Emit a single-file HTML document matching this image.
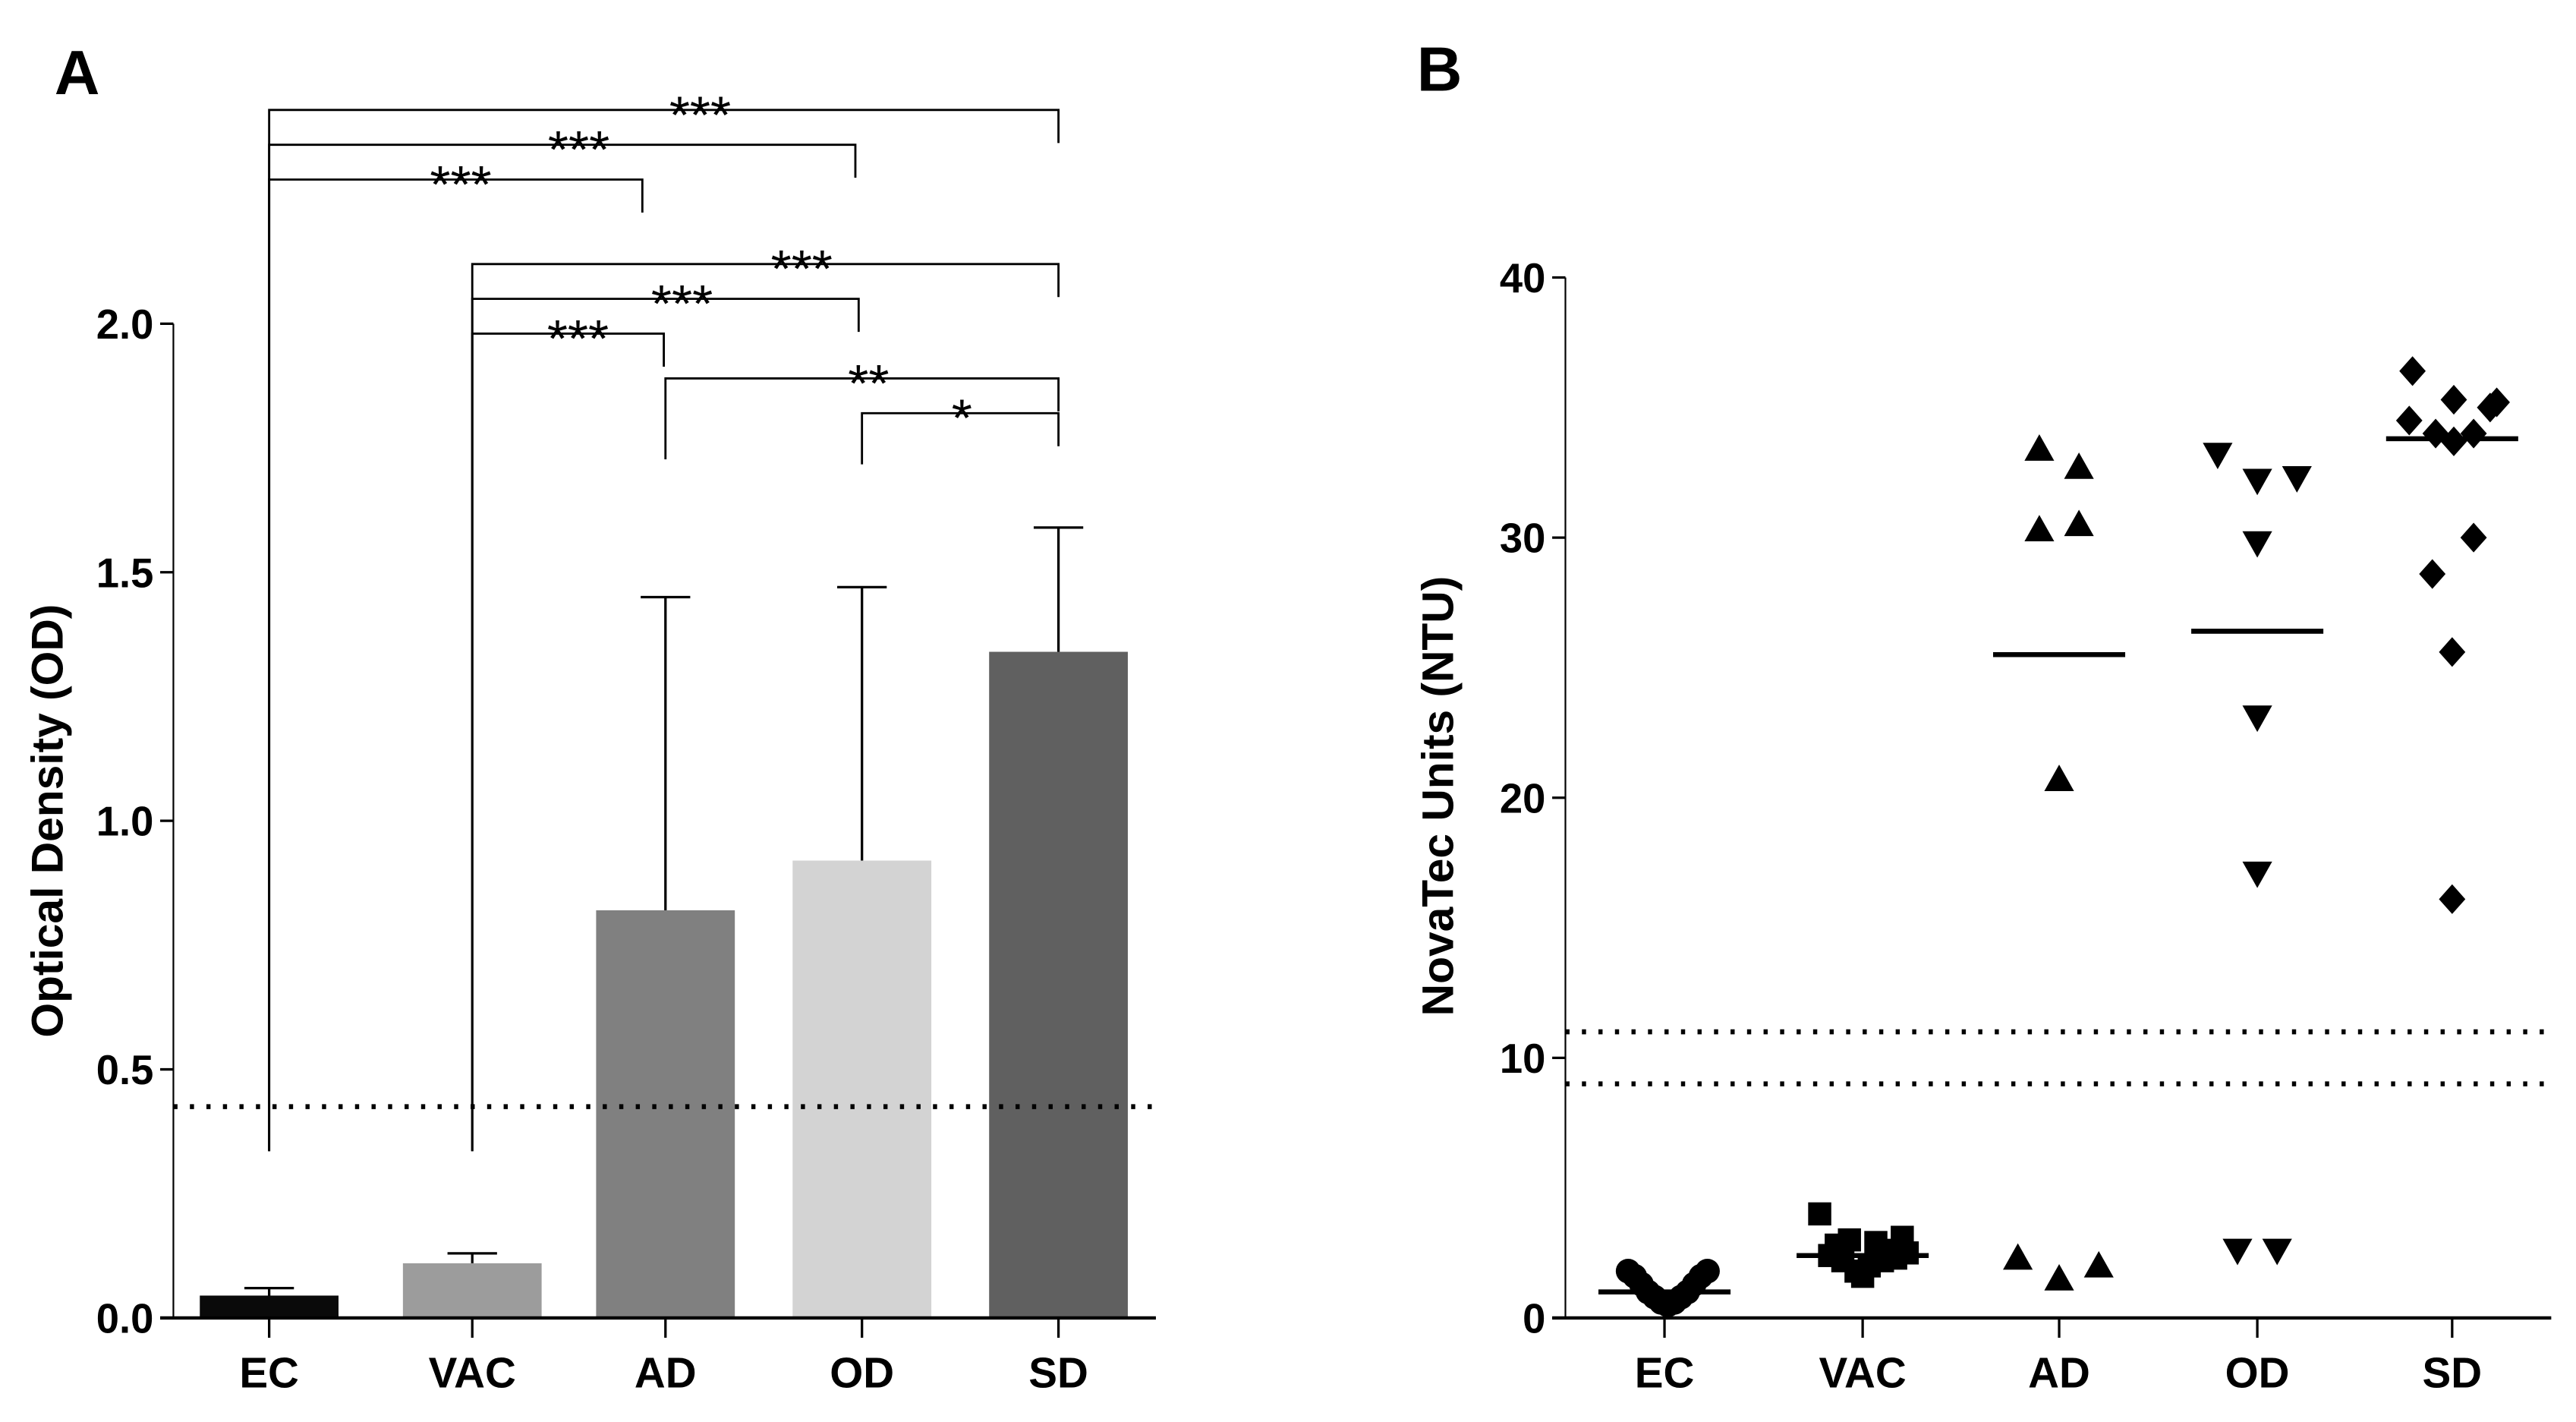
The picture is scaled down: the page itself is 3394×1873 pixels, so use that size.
<!DOCTYPE html>
<html><head><meta charset="utf-8"><style>
html,body{margin:0;padding:0;background:#fff;}
svg{display:block;font-family:"Liberation Sans",Arial,sans-serif;}
</style></head><body>
<svg id="fig" width="3394" height="1873" viewBox="0 0 1560 861" preserveAspectRatio="none" xmlns="http://www.w3.org/2000/svg">
<rect width="1560" height="861" fill="#fff"/>
<g id="pa"></g>
<g id="pb"></g>
</svg>
<script>
// Panel A data
const catsA = ["EC","VAC","AD","OD","SD"];
const meansA = [0.045, 0.11, 0.82, 0.92, 1.34];
const errTopA = [0.06, 0.13, 1.45, 1.47, 1.59];
const colorsA = ["#0a0a0a","#9c9c9c","#808080","#d3d3d3","#606060"];
const ticksA = [0, 0.5, 1.0, 1.5, 2.0];
const cutoffA = 0.425;
// significance: [fromIdx, toIdx, label]
const sigPairs = [[0,4,"***"],[0,3,"***"],[0,2,"***"],[1,4,"***"],[1,3,"***"],[1,2,"***"],[2,4,"**"],[3,4,"*"]];
const sigLevels = [2.43, 2.36, 2.29, 2.12, 2.05, 1.98, 1.89, 1.82];

// Panel B data
const catsB = ["EC","VAC","AD","OD","SD"];
const ticksB = [0,10,20,30,40];
const cutoffsB = [11, 9];
const meanB = [1.0, 2.4, 25.5, 26.4, 33.8];
const ecVals = [1.8,1.6,1.3,1.0,0.8,0.6,0.5,0.6,0.8,1.0,1.3,1.6,1.8];
const vacVals = [4.0,2.4,2.8,2.2,3.0,1.8,1.6,2.0,2.9,2.2,2.6,2.3,3.1,2.5];
const adVals = [33.4,32.7,30.3,30.5,20.7,2.3,1.5,2.0];
const odVals = [33.2,32.2,32.3,29.8,23.1,17.1,2.6,2.6];
const sdVals = [36.4,35.3,35.0,34.5,34.0,33.7,34.0,35.2,30.0,28.6,25.6,16.1];
// jitter offsets (px) for scatter layout
const ecOff = [-22,-18,-14,-10,-6,-2,2,6,10,14,18,22,26];
const vacOff = [-26,-20,-16,-12,-8,-4,0,4,8,12,16,20,24,27];
const adOff = [-12,12,-12,12,0,-25,0,24];
const odOff = [-24,0,24,0,0,0,-12,12];
const sdOff = [-24,1,23,-26,-10,1,13,27,13,-12,0,0];

const NS="http://www.w3.org/2000/svg";
function mk(parent,tag,attrs,text){const e=document.createElementNS(NS,tag);for(const k in attrs)e.setAttribute(k,attrs[k]);if(text!==undefined)e.textContent=text;parent.appendChild(e);return e;}

// ---------- Panel A ----------
const pa=document.getElementById('pa');
const ax0=105, ax1=700, ay0=798;
const yA=v=>ay0-301*v;
const xA=i=>[163,286,403,522,641][i];
const bw=84;
let t;
t=mk(pa,'text',{x:33,y:57,'font-size':38,'font-weight':'bold'},'A');


meansA.forEach((v,i)=>{
  const r=mk(pa,'rect',{x:xA(i)-bw/2,y:yA(v),width:bw,height:ay0-yA(v),fill:colorsA[i]});
  
  
  const eb=mk(pa,'path',{d:`M${xA(i)} ${yA(v)}V${yA(errTopA[i])}M${xA(i)-15} ${yA(errTopA[i])}H${xA(i)+15}`,stroke:'#000','stroke-width':1.5,fill:'none'});
  
  
});
let ln=mk(pa,'line',{x1:ax0,y1:yA(cutoffA),x2:ax1,y2:yA(cutoffA),stroke:'#000','stroke-width':3,'stroke-dasharray':'2.5 7.5'});


ln=mk(pa,'line',{x1:ax0,y1:yA(2.0),x2:ax0,y2:ay0,stroke:'#000','stroke-width':1});


ln=mk(pa,'line',{x1:ax0-8,y1:ay0,x2:ax1,y2:ay0,stroke:'#000','stroke-width':2});


ticksA.forEach(v=>{
  mk(pa,'line',{x1:ax0-8,y1:yA(v),x2:ax0,y2:yA(v),stroke:'#000','stroke-width':1.5});
  t=mk(pa,'text',{x:ax0-12,y:yA(v)+9,'font-size':25,'font-weight':'bold','text-anchor':'end'},v.toFixed(1));
  
  
});
catsA.forEach((c,i)=>{
  mk(pa,'line',{x1:xA(i),y1:ay0,x2:xA(i),y2:ay0+12,stroke:'#000','stroke-width':1.5});
  t=mk(pa,'text',{x:xA(i),y:840,'font-size':26,'font-weight':'bold','text-anchor':'middle'},c);
  
  
});
t=mk(pa,'text',{x:0,y:0,'font-size':27,'font-weight':'bold','text-anchor':'middle',transform:'translate(38,497) rotate(-90)'},'Optical Density (OD)');


const starShift=[22,10,3,22,10,6,4,1];
const rightEndShift=[0,-4,-14,0,-2,-1,0,0];
const leftDrop=[0,0,0,0,0,0,49,31];
sigPairs.forEach((p,k)=>{
  const y=yA(sigLevels[k]);
  const a=xA(p[0]), b=xA(p[1])+rightEndShift[k];
  let leftBottom = p[0]<2 ? 697 : y+leftDrop[k];
  const d=`M${a} ${leftBottom}V${y}H${b}V${y+20}`;
  const g=mk(pa,'path',{d:d,stroke:'#000','stroke-width':1.3,fill:'none'});
  
  
  t=mk(pa,'text',{x:(a+b)/2+starShift[k],y:y+14,'font-size':32,'text-anchor':'middle'},p[2]);
  
  
});

// ---------- Panel B ----------
const pb=document.getElementById('pb');
const bx0=948, bx1=1545;
const yB=v=>798-15.75*v;
const xB=i=>[1008,1128,1247,1367,1485][i];
t=mk(pb,'text',{x:858,y:55,'font-size':38,'font-weight':'bold'},'B');


cutoffsB.forEach(v=>{
  const l=mk(pb,'line',{x1:bx0,y1:yB(v),x2:bx1,y2:yB(v),stroke:'#000','stroke-width':3,'stroke-dasharray':'2.5 7.5'});
  
  
});
ln=mk(pb,'line',{x1:bx0,y1:yB(40),x2:bx0,y2:798,stroke:'#000','stroke-width':1});


ln=mk(pb,'line',{x1:bx0-8,y1:798,x2:bx1,y2:798,stroke:'#000','stroke-width':2});


ticksB.forEach(v=>{
  mk(pb,'line',{x1:bx0-8,y1:yB(v),x2:bx0,y2:yB(v),stroke:'#000','stroke-width':1.5});
  t=mk(pb,'text',{x:bx0-12,y:yB(v)+9,'font-size':25,'font-weight':'bold','text-anchor':'end'},String(v));
  
  
});
catsB.forEach((c,i)=>{
  mk(pb,'line',{x1:xB(i),y1:798,x2:xB(i),y2:810,stroke:'#000','stroke-width':1.5});
  t=mk(pb,'text',{x:xB(i),y:840,'font-size':26,'font-weight':'bold','text-anchor':'middle'},c);
  
  
});
t=mk(pb,'text',{x:0,y:0,'font-size':27,'font-weight':'bold','text-anchor':'middle',transform:'translate(880,482) rotate(-90)'},'NovaTec Units (NTU)');


function marker(shape,cx,cy){
  let e;
  if(shape==='circle') e=mk(pb,'circle',{cx:cx,cy:cy,r:7.5,fill:'#000'});
  else if(shape==='square') e=mk(pb,'rect',{x:cx-7,y:cy-7,width:14,height:14,fill:'#000'});
  else if(shape==='up') e=mk(pb,'path',{d:`M${cx} ${cy-9}L${cx+9} ${cy+7}L${cx-9} ${cy+7}Z`,fill:'#000'});
  else if(shape==='down') e=mk(pb,'path',{d:`M${cx} ${cy+9}L${cx+9} ${cy-7}L${cx-9} ${cy-7}Z`,fill:'#000'});
  else e=mk(pb,'path',{d:`M${cx} ${cy-9}L${cx+8} ${cy}L${cx} ${cy+9}L${cx-8} ${cy}Z`,fill:'#000'});
  return e;
}
const groups=[[ecVals,ecOff,'circle'],[vacVals,vacOff,'square'],[adVals,adOff,'up'],[odVals,odOff,'down'],[sdVals,sdOff,'diamond']];
groups.forEach((g,i)=>{
  g[0].forEach((v,j)=>{
    const m=marker(g[2],xB(i)+g[1][j],yB(v));
    
    
  });
  const ml=mk(pb,'line',{x1:xB(i)-40,y1:yB(meanB[i]),x2:xB(i)+40,y2:yB(meanB[i]),stroke:'#000','stroke-width':3});
  
  
});
</script>
</body></html>
